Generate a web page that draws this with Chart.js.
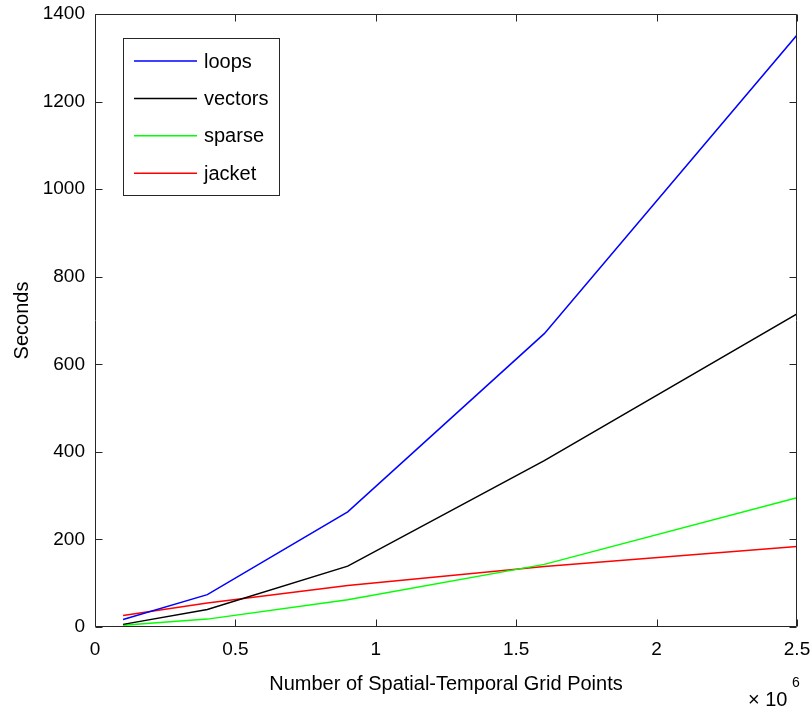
<!DOCTYPE html>
<html>
<head>
<meta charset="utf-8">
<title>Runtime vs grid points</title>
<script src="https://cdn.jsdelivr.net/npm/chart.js@4/dist/chart.umd.min.js"></script>
<style>
  html, body { margin: 0; padding: 0; background: #ffffff; }
  #wrap { width: 812px; height: 715px; position: relative; }
</style>
</head>
<body>
<div id="wrap"><canvas id="c" width="812" height="715"></canvas></div>
<script>
// Problem size in millions of space-time grid points
const gridPoints = [0.1, 0.4, 0.9, 1.6, 2.5];

// Run times in seconds for each implementation
const loops   = [17, 74, 263, 670, 1352];
const vectors = [6, 40, 139, 380, 715];
const sparse  = [4, 18, 62, 143, 295];
const jacket  = [26, 55, 95, 138, 184];

const seriesNames  = ['loops', 'vectors', 'sparse', 'jacket'];
const seriesColors = ['#0000ff', '#000000', '#00ff00', '#ff0000'];

const xTicks = [0, 0.5, 1, 1.5, 2, 2.5];
const yTicks = [0, 200, 400, 600, 800, 1000, 1200, 1400];

const FONT = "'Liberation Sans', Arial, Helvetica, sans-serif";
const AXIS_COLOR = '#262626';
const TICK_LEN = 7;

function toPoints(values) {
  return gridPoints.map((x, i) => ({ x: x, y: values[i] }));
}

const allSeries = [loops, vectors, sparse, jacket];
const datasets = allSeries.map((vals, i) => ({
  label: seriesNames[i],
  data: toPoints(vals),
  borderColor: seriesColors[i],
  backgroundColor: seriesColors[i],
  borderWidth: 1.5,
  pointRadius: 0,
  tension: 0,
  fill: false
}));

// Keep the plot box fixed: no extra room reserved for label overhang
function noOverhang(scale) {
  scale.paddingTop = 0;
  scale.paddingBottom = 0;
  scale.paddingLeft = 0;
  scale.paddingRight = 0;
}

// Axis box with inward ticks on all four sides
const boxPlugin = {
  id: 'matlabBox',
  afterDatasetsDraw(chart) {
    const { ctx, chartArea: a, scales } = chart;
    ctx.save();
    ctx.strokeStyle = AXIS_COLOR;
    ctx.lineWidth = 1;
    const L = Math.round(a.left) + 0.5, R = Math.round(a.right) - 0.5;
    const T = Math.round(a.top) + 0.5, B = Math.round(a.bottom) - 0.5;
    ctx.beginPath();
    ctx.rect(L, T, R - L, B - T);
    xTicks.forEach(v => {
      const px = Math.round(scales.x.getPixelForValue(v)) + 0.5;
      ctx.moveTo(px, B); ctx.lineTo(px, B - TICK_LEN);
      ctx.moveTo(px, T); ctx.lineTo(px, T + TICK_LEN);
    });
    yTicks.forEach(v => {
      const py = Math.round(scales.y.getPixelForValue(v)) + 0.5;
      ctx.moveTo(L, py); ctx.lineTo(L + TICK_LEN, py);
      ctx.moveTo(R, py); ctx.lineTo(R - TICK_LEN, py);
    });
    ctx.stroke();
    ctx.restore();
  }
};

// Boxed legend in the upper-left corner of the plot
const legendPlugin = {
  id: 'boxLegend',
  afterDraw(chart) {
    const { ctx } = chart;
    const bx = 123.5, by = 38.5, bw = 156, bh = 157;
    ctx.save();
    ctx.fillStyle = '#ffffff';
    ctx.fillRect(bx, by, bw, bh);
    ctx.strokeStyle = AXIS_COLOR;
    ctx.lineWidth = 1;
    ctx.strokeRect(bx, by, bw, bh);
    ctx.font = '20px ' + FONT;
    ctx.textBaseline = 'middle';
    ctx.textAlign = 'left';
    chart.data.datasets.forEach((ds, i) => {
      const y = 61 + i * 37.4;
      ctx.strokeStyle = ds.borderColor;
      ctx.lineWidth = 1.5;
      ctx.beginPath();
      ctx.moveTo(134, y);
      ctx.lineTo(197, y);
      ctx.stroke();
      ctx.fillStyle = '#000000';
      ctx.fillText(ds.label, 204, y + 1);
    });
    ctx.restore();
  }
};

// Exponent label for the x axis
const exponentPlugin = {
  id: 'xExponent',
  afterDraw(chart) {
    const { ctx } = chart;
    ctx.save();
    ctx.fillStyle = '#000000';
    ctx.textBaseline = 'middle';
    ctx.textAlign = 'left';
    ctx.font = '20px ' + FONT;
    ctx.fillText('\u00d7 10', 748, 700);
    ctx.font = '14px ' + FONT;
    ctx.fillText('6', 792, 683);
    ctx.restore();
  }
};

new Chart(document.getElementById('c'), {
  type: 'line',
  data: { datasets: datasets },
  options: {
    responsive: false,
    animation: false,
    devicePixelRatio: 1,
    layout: { padding: { top: 14, right: 15, left: 0, bottom: 0 } },
    plugins: {
      legend: { display: false },
      tooltip: { enabled: false }
    },
    scales: {
      x: {
        type: 'linear',
        min: 0,
        max: 2.5,
        afterBuildTicks(scale) { scale.ticks = xTicks.map(v => ({ value: v })); },
        afterFit(scale) { scale.height = 88; noOverhang(scale); },
        grid: { display: false, drawTicks: false },
        border: { display: false },
        ticks: {
          color: '#000000',
          font: { family: FONT, size: 19 },
          padding: 11,
          maxRotation: 0,
          callback: v => String(v)
        },
        title: {
          display: true,
          text: 'Number of Spatial-Temporal Grid Points',
          color: '#000000',
          font: { family: FONT, size: 20 },
          padding: { top: 0, bottom: 19 }
        }
      },
      y: {
        type: 'linear',
        min: 0,
        max: 1400,
        afterBuildTicks(scale) { scale.ticks = yTicks.map(v => ({ value: v })); },
        afterFit(scale) { scale.width = 95; noOverhang(scale); },
        grid: { display: false, drawTicks: false },
        border: { display: false },
        ticks: {
          color: '#000000',
          font: { family: FONT, size: 19 },
          padding: 10,
          callback: v => String(v)
        },
        title: {
          display: true,
          text: 'Seconds',
          color: '#000000',
          font: { family: FONT, size: 20 },
          padding: { top: 10, bottom: 0 }
        }
      }
    }
  },
  plugins: [boxPlugin, legendPlugin, exponentPlugin]
});
</script>
</body>
</html>
